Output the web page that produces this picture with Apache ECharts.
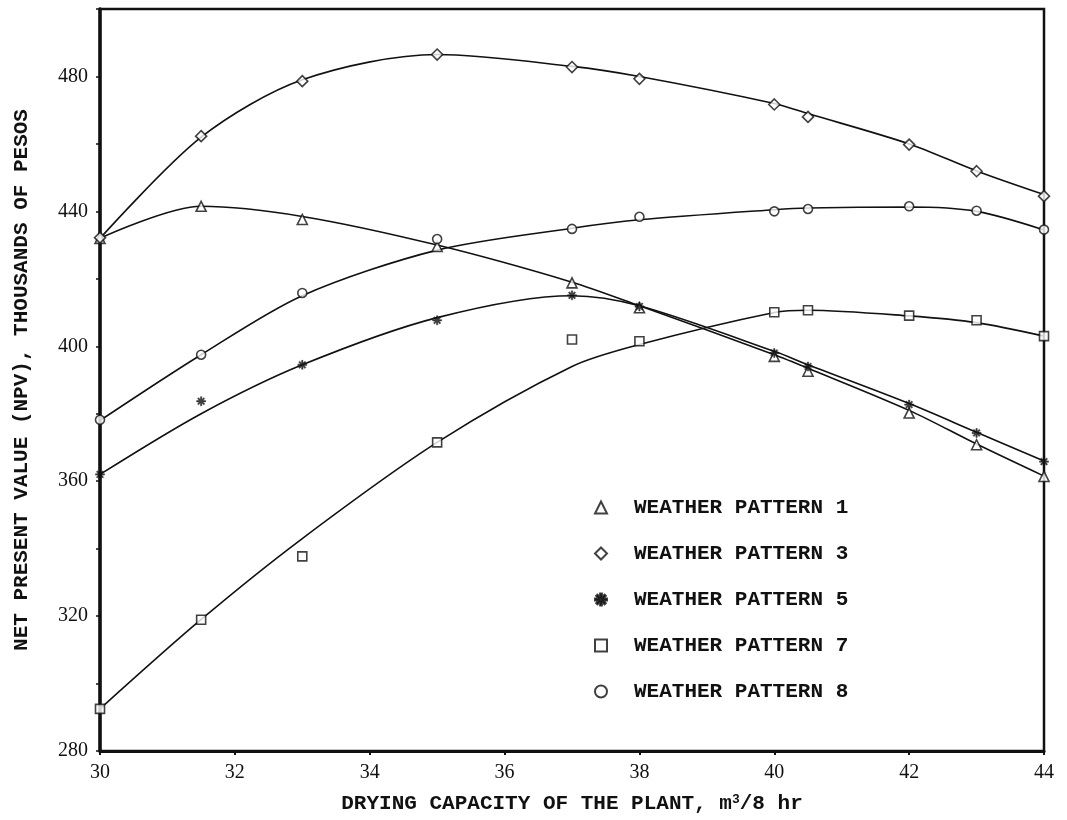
<!DOCTYPE html>
<html>
<head>
<meta charset="utf-8">
<script src="https://cdn.jsdelivr.net/npm/echarts@6/dist/echarts.min.js"></script>
<style>
  html, body { margin: 0; padding: 0; background: #fff; }
  #chart { width: 1067px; height: 820px; }
</style>
</head>
<body>
<div id="chart"></div>
<script>
// drying capacity (m3/8 hr)
const capacity = [30, 31.5, 33, 35, 37, 38, 40, 40.5, 42, 43, 44];

// plotted points, NPV in thousands of pesos
const wp1Points = [432, 441.5, 437.6, 429.6, 418.8, 411.4, 397, 392.6, 380.2, 370.8, 361.4];
const wp3Points = [432.2, 462.3, 478.6, 486.5, 482.8, 479.3, 471.7, 468.0, 459.8, 451.9, 444.5];
const wp5Points = [362, 383.7, 394.5, 407.7, 415.1, 411.8, 398, 394, 382.7, 374.3, 365.8];
const wp7Points = [292.5, 318.9, 337.7, 371.5, 402, 401.5, 410.1, 410.7, 409.1, 407.7, 403];
const wp8Points = [378.2, 397.5, 415.8, 431.8, 434.8, 438.4, 440, 440.7, 441.5, 440.2, 434.6];

// fitted curves
const wp1Curve = [432, 441.5, 438.5, 430, 419, 412, 397.5, 393.5, 381, 371, 361.5];
const wp3Curve = [432, 462, 479, 486.5, 483, 480, 472, 469, 460, 452, 445];
const wp5Curve = [362, 380, 394.5, 408.5, 415, 412, 398.5, 394.5, 383, 374.5, 366];
const wp7Curve = [292.5, 319, 343, 371.5, 394, 400.5, 410, 410.7, 409, 407, 403];
const wp8Curve = [378, 397.5, 415, 428.5, 435, 437.5, 440.5, 441, 441.3, 440, 434.5];

const patternNames = ['WEATHER PATTERN 1', 'WEATHER PATTERN 3', 'WEATHER PATTERN 5', 'WEATHER PATTERN 7', 'WEATHER PATTERN 8'];

const asterisk = 'path://M-1.5,-10 L1.5,-10 L1.5,-4 L6,-8 L8,-6 L4,-1.5 L10,-1.5 L10,1.5 L4,1.5 L8,6 L6,8 L1.5,4 L1.5,10 L-1.5,10 L-1.5,4 L-6,8 L-8,6 L-4,1.5 L-10,1.5 L-10,-1.5 L-4,-1.5 L-8,-6 L-6,-8 L-1.5,-4 Z';
const symbols = ['triangle', 'diamond', asterisk, 'rect', 'circle'];
const sizes = [10, 11, 9, 9, 9];
const points = [wp1Points, wp3Points, wp5Points, wp7Points, wp8Points];
const curves = [wp1Curve, wp3Curve, wp5Curve, wp7Curve, wp8Curve];

const mono = 'Liberation Mono';
const serif = 'Liberation Serif';
const ink = '#111';

const pair = (ys) => capacity.map((x, i) => [x, ys[i]]);

const series = [];
curves.forEach((c, i) => {
    series.push({
        name: 'curve' + i,
        type: 'line',
        data: pair(c),
        smooth: 0.3,
        symbol: 'none',
        lineStyle: { color: ink, width: 1.6 },
        z: 2,
        silent: true
    });
});
points.forEach((p, i) => {
    series.push({
        name: patternNames[i],
        type: 'scatter',
        data: pair(p),
        symbol: symbols[i],
        symbolSize: sizes[i],
        itemStyle: {
            color: i === 2 ? ink : '#fff',
            borderColor: ink,
            borderWidth: i === 2 ? 0.5 : 1.6
        },
        z: 3
    });
});

const chart = echarts.init(document.getElementById('chart'));
chart.setOption({
    animation: false,
    backgroundColor: '#fff',
    grid: {
        left: 100, right: 23, top: 9, bottom: 69,
        show: true, borderColor: ink, borderWidth: 2.5
    },
    legend: {
        data: patternNames,
        orient: 'vertical',
        left: 589,
        top: 492,
        itemWidth: 12,
        itemHeight: 12,
        itemGap: 25,
        textStyle: {
            fontFamily: mono, fontWeight: 'bold', fontSize: 21,
            color: ink, lineHeight: 20, padding: [0, 0, 0, 22]
        }
    },
    xAxis: {
        type: 'value',
        min: 30, max: 44, interval: 2,
        name: 'DRYING CAPACITY OF THE PLANT, m{s|3}/8 hr',
        nameLocation: 'middle',
        nameGap: 42,
        nameTextStyle: {
            fontFamily: mono, fontWeight: 'bold', fontSize: 21, color: ink,
            rich: { s: { fontFamily: mono, fontWeight: 'bold', fontSize: 13, color: ink, padding: [0, 0, 9, 0] } }
        },
        axisLine: { lineStyle: { color: ink, width: 3 } },
        axisTick: { length: 4, lineStyle: { color: ink, width: 2 } },
        axisLabel: { fontFamily: serif, fontSize: 20, color: ink, margin: 12 },
        splitLine: { show: false }
    },
    yAxis: {
        type: 'value',
        min: 280, max: 500, interval: 20,
        name: 'NET PRESENT VALUE (NPV), THOUSANDS OF PESOS',
        nameLocation: 'middle',
        nameRotate: 90,
        nameGap: 68,
        nameTextStyle: { fontFamily: mono, fontWeight: 'bold', fontSize: 21, color: ink },
        axisLine: { show: true, lineStyle: { color: ink, width: 3.5 } },
        axisTick: { length: 4, lineStyle: { color: ink, width: 1.5 } },
        axisLabel: {
            fontFamily: serif, fontSize: 20, color: ink, margin: 12,
            formatter: v => ((v - 280) % 40 === 0 && v < 500) ? String(v) : ''
        },
        splitLine: { show: false }
    },
    series
});
</script>
</body>
</html>
